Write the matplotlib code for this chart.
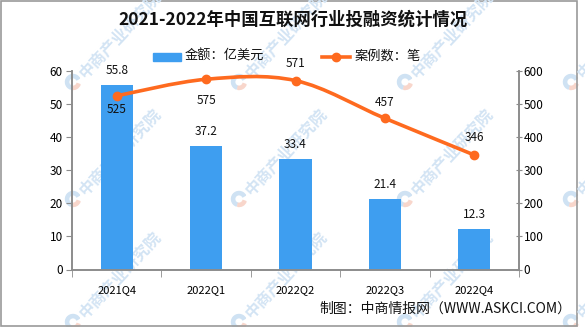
import matplotlib
matplotlib.use("Agg")
import matplotlib.pyplot as plt
import numpy as np
from matplotlib.path import Path
from matplotlib.patches import PathPatch, Rectangle, Wedge

plt.rcParams["font.family"] = ["Noto Sans CJK SC", "DejaVu Sans"]

# data
quarters = ["2021Q4", "2022Q1", "2022Q2", "2022Q3", "2022Q4"]
amount = [55.8, 37.2, 33.4, 21.4, 12.3]        # 亿美元
deals = [525, 575, 571, 457, 346]              # 笔

title = "2021-2022年中国互联网行业投融资统计情况"
bar_label = "金额：亿美元"
line_label = "案例数：笔"
source = "制图：中商情报网（WWW.ASKCI.COM）"
watermark = "中商产业研究院"

BAR_C = "#3e9ef0"
LINE_C = "#fe6a1f"
AX_C = "#8c8c8c"
W, H = 585, 327


def smooth_path(xs, ys):
    # catmull-rom -> bezier, like the spreadsheet "smoothed line"
    p = np.column_stack([xs, ys]).astype(float)
    ext = np.vstack([p[0], p, p[-1]])
    verts = [p[0]]
    codes = [Path.MOVETO]
    for i in range(len(p) - 1):
        a, b, c, d = ext[i], ext[i + 1], ext[i + 2], ext[i + 3]
        verts += [b + (c - a) / 6, c - (d - b) / 6, c]
        codes += [Path.CURVE4] * 3
    return Path(verts, codes)


def main() -> None:
    fig = plt.figure(figsize=(W / 100, H / 100), dpi=100)

    # background layer in pixel coords (y down): watermark, legend, border
    bg = fig.add_axes([0, 0, 1, 1], zorder=-5)
    bg.set_axis_off()
    bg.set_xlim(0, W)
    bg.set_ylim(H, 0)
    for wy in [-36, 82, 199, 322]:
        for wx in [-93, 73, 239, 405, 571]:
            bg.add_patch(Wedge((wx, wy), 7.5, 110, 330, width=3.2, color="#cfe2f3"))
            bg.add_patch(Wedge((wx, wy), 7.5, 20, 100, width=3.2, color="#f8d6cb"))
            bg.text(wx + 9, wy - 6, watermark, color="#d3e4f4", fontsize=11.5,
                    fontweight="bold", rotation=47, rotation_mode="anchor",
                    ha="left", va="center", clip_on=True)
    bg.add_patch(Rectangle((0.5, 0.8), 576.5, 325, fill=False, ec="#9a9a9a", lw=1.2))

    ax = fig.add_axes([72 / W, 1 - 269.5 / H, (519 - 72) / W, (269.5 - 71) / H])
    ax.set_facecolor("none")
    ax2 = ax.twinx()

    x = np.arange(len(quarters))
    ax.bar(x, amount, width=0.36, color=BAR_C, zorder=2)
    for xi, v in zip(x, amount):
        ax.annotate(f"{v:.1f}", (xi, v), xytext=(0, 8), textcoords="offset pixels",
                    ha="center", va="bottom", fontsize=8.5, color="#111111")

    ax2.add_patch(PathPatch(smooth_path(x, deals), fill=False, ec=LINE_C, lw=2.6,
                            zorder=3, capstyle="round"))
    ax2.plot(x, deals, "o", color=LINE_C, ms=6, zorder=4)
    offs = [-14, -21, 17, 16, 18]
    for xi, v, o in zip(x, deals, offs):
        ax2.annotate(str(v), (xi, v), xytext=(0, o), textcoords="offset pixels",
                     ha="center", va="center", fontsize=8.5, color="#111111")

    ax.set_xlim(-0.5, len(quarters) - 0.5)
    ax.set_ylim(0, 60)
    ax2.set_ylim(0, 600)
    ax.set_yticks(range(0, 61, 10))
    ax2.set_yticks(range(0, 601, 100))
    ax.set_xticks(x)
    ax.set_xticklabels(quarters)
    ax.set_xticks(np.arange(-0.5, len(quarters), 1), minor=True)
    ax.tick_params(axis="x", which="major", length=0, pad=11, labelsize=8)
    ax.tick_params(axis="x", which="minor", length=5, color=AX_C, direction="out")
    ax.tick_params(axis="y", length=4.5, color=AX_C, direction="out", labelsize=8.5, pad=2)
    ax2.tick_params(axis="y", length=5, color=AX_C, direction="inout", labelsize=8.5, pad=1)

    for a in (ax, ax2):
        a.spines["top"].set_visible(False)
        for s in ("left", "right", "bottom"):
            a.spines[s].set_color(AX_C)
            a.spines[s].set_linewidth(1.2)

    fig.text(0.5, 1 - 20 / H, title, ha="center", va="center", fontsize=12.5,
             fontweight="bold", color="#111111")

    # legend
    bg.add_patch(Rectangle((153, 53), 28, 8, color=BAR_C))
    bg.text(185, 56, bar_label, ha="left", va="center", fontsize=9.5, color="#111111")
    bg.plot([322, 350], [57, 57], color=LINE_C, lw=2.6)
    bg.plot([336], [57], "o", color=LINE_C, ms=6)
    bg.text(355, 56, line_label, ha="left", va="center", fontsize=9.5, color="#111111")

    bg.text(571, 309, source, ha="right", va="center", fontsize=10, color="#111111")

    fig.savefig("out.png", dpi=100)
    plt.close(fig)


if __name__ == "__main__":
    main()
